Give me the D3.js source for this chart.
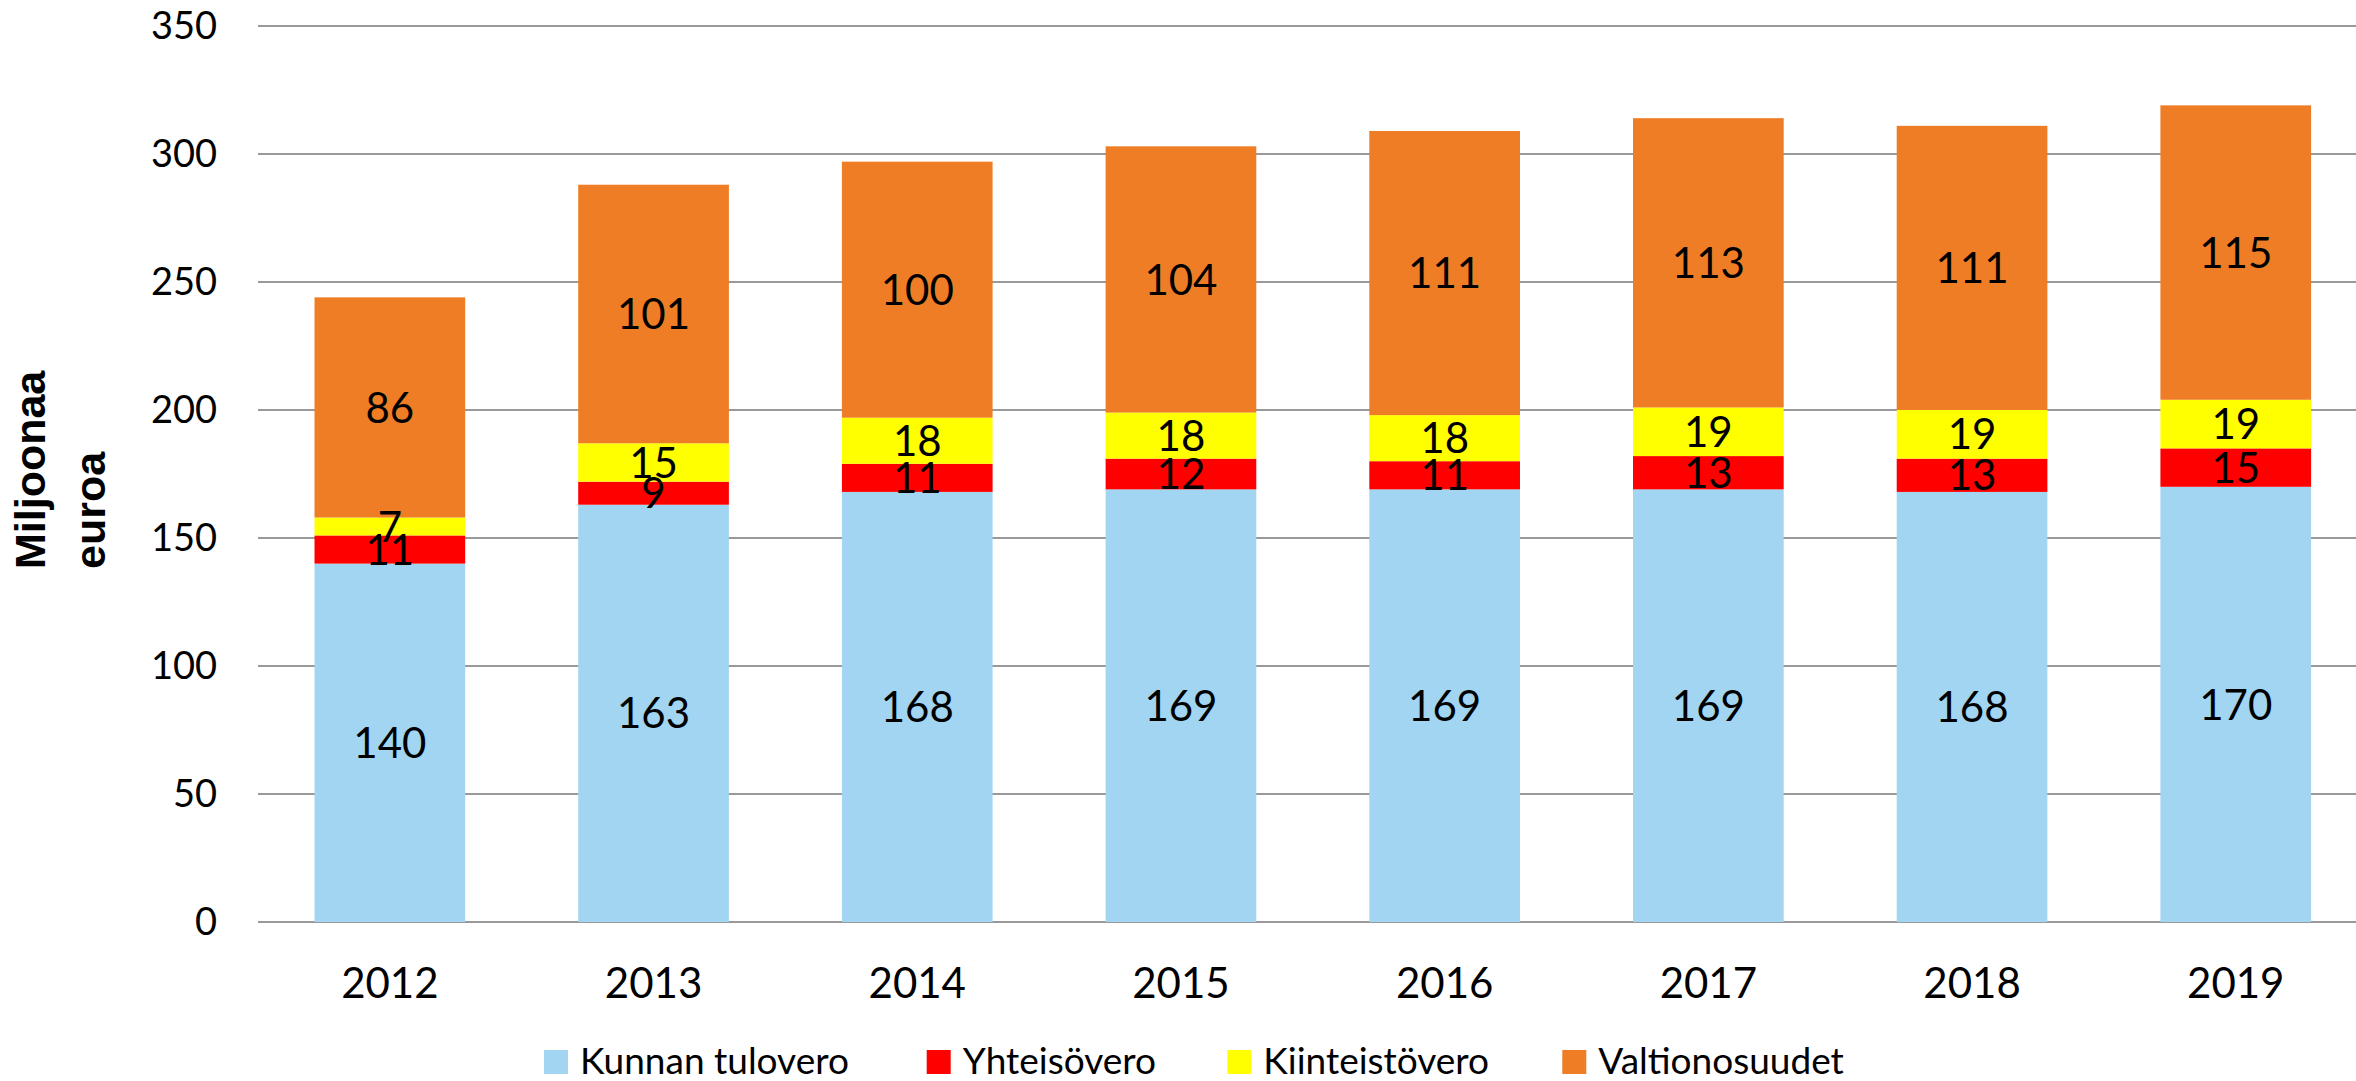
<!DOCTYPE html>
<html>
<head>
<meta charset="utf-8">
<script src="https://cdn.jsdelivr.net/npm/d3@7"></script>
<style>
  body { margin: 0; background: #fff; }
  svg { display: block; }
</style>
</head>
<body>
<div id="chart"></div>
<script>
// data
const years = ["2012", "2013", "2014", "2015", "2016", "2017", "2018", "2019"]
const kunnanTulovero = [140, 163, 168, 169, 169, 169, 168, 170]
const yhteisovero = [11, 9, 11, 12, 11, 13, 13, 15]
const kiinteistovero = [7, 15, 18, 18, 18, 19, 19, 19]
const valtionosuudet = [86, 101, 100, 104, 111, 113, 111, 115]
const seriesNames = ["Kunnan tulovero", "Yhteisövero", "Kiinteistövero", "Valtionosuudet"]
const yTicks = [0, 50, 100, 150, 200, 250, 300, 350]

const colors = ["#A1D5F1", "#FF0000", "#FFFF00", "#EE7D25"]

const width = 2356, height = 1081

// build table for d3.stack
const keys = ["kt", "yh", "ki", "vo"]
const table = years.map((y, i) => ({
    year: y,
    kt: kunnanTulovero[i],
    yh: yhteisovero[i],
    ki: kiinteistovero[i],
    vo: valtionosuudet[i]
}))
const stacked = d3.stack().keys(keys)(table)

const svg = d3.select("#chart")
    .append("svg")
    .attr("width", width)
    .attr("height", height)

const plotLeft = 258, plotRight = 2367.6

const x = d3.scaleBand()
    .domain(years)
    .range([plotLeft, plotRight])
    .paddingInner(0.4286)
    .paddingOuter(0.2143)

const y = d3.scaleLinear()
    .domain([0, 350])
    .range([922, 26])

//Gridlines
svg.append("g")
    .selectAll("line")
    .data(yTicks)
    .enter()
    .append("line")
    .attr("x1", plotLeft)
    .attr("x2", width)
    .attr("y1", d => y(d))
    .attr("y2", d => y(d))
    .attr("stroke", "#999")
    .attr("stroke-width", 2)

//Y tick labels
const yAxis = svg.append("g")
    .attr("transform", "translate(217,0)")
    .call(d3.axisLeft(y).tickValues(yTicks).tickSize(0).tickPadding(0))
yAxis.select(".domain").remove()
yAxis.selectAll("text")
    .attr("font-family", "Lato, 'Open Sans', sans-serif")
    .attr("font-size", 38)
    .attr("fill", "#000")

//X tick labels
const xAxis = svg.append("g")
    .attr("transform", "translate(0,968)")
    .call(d3.axisBottom(x).tickSize(0).tickPadding(0))
xAxis.select(".domain").remove()
xAxis.selectAll("text")
    .attr("font-family", "Lato, 'Open Sans', sans-serif")
    .attr("font-size", 42)
    .attr("fill", "#000")
    .attr("dy", "0.72em")

//Bars
const layers = svg.append("g")
    .selectAll("g")
    .data(stacked)
    .enter()
    .append("g")
    .attr("fill", (d, i) => colors[i])

layers.selectAll("rect")
    .data(d => d)
    .enter()
    .append("rect")
    .attr("x", d => x(d.data.year))
    .attr("width", x.bandwidth())
    .attr("y", d => y(d[1]))
    .attr("height", d => y(d[0]) - y(d[1]))

//Data labels, drawn after all bars so they overlap the neighbours
const labels = svg.append("g")
stacked.forEach(layer => {
    labels.selectAll(null)
        .data(layer)
        .enter()
        .append("text")
        .attr("x", d => x(d.data.year) + x.bandwidth() / 2)
        .attr("y", d => (y(d[0]) + y(d[1])) / 2)
        .attr("dy", "0.36em")
        .attr("text-anchor", "middle")
        .attr("font-family", "Lato, 'Open Sans', sans-serif")
        .attr("font-size", 42)
        .attr("fill", "#000")
        .text(d => Math.round(d[1] - d[0]))
})

//Y axis title
svg.append("text")
    .attr("transform", "translate(45,569) rotate(-90)")
    .attr("font-family", "'Liberation Sans', Arial, sans-serif")
    .attr("font-weight", "bold")
    .attr("font-size", 43)
    .attr("fill", "#000")
    .selectAll("tspan")
    .data(["Miljoonaa", "euroa"])
    .enter()
    .append("tspan")
    .attr("x", 0)
    .attr("y", (d, i) => i * 60)
    .text(d => d)

//Legend
const legendX = [544, 926.7, 1227.3, 1562.3]
const legend = svg.append("g")
    .selectAll("g")
    .data(seriesNames)
    .enter()
    .append("g")
    .attr("transform", (d, i) => "translate(" + legendX[i] + ",1050)")

legend.append("rect")
    .attr("width", 24)
    .attr("height", 24)
    .attr("fill", (d, i) => colors[i])

legend.append("text")
    .attr("x", 36)
    .attr("y", 24)
    .attr("font-family", "Lato, 'Open Sans', sans-serif")
    .attr("font-size", 37)
    .attr("fill", "#000")
    .text(d => d)
</script>
</body>
</html>
